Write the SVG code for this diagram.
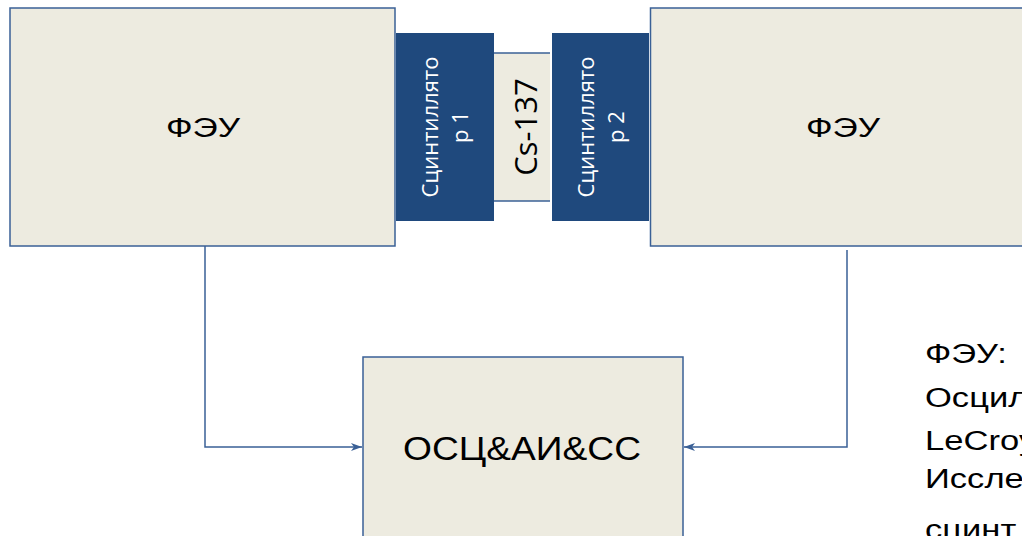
<svg xmlns="http://www.w3.org/2000/svg" width="1022" height="536" viewBox="0 0 1022 536">
<style>
.box{fill:#EDEBE0;stroke:#3A6096;stroke-width:1.5}
.scint{fill:#1F497D}
.lbl{font-family:"Liberation Sans",Arial,sans-serif;fill:#000;text-anchor:middle}
.wt{font-family:"Open Sans","Liberation Sans",sans-serif;fill:#fff;font-size:22px;text-anchor:middle}
.side{font-family:"Liberation Sans",Arial,sans-serif;fill:#000;font-size:27px}
.conn{fill:none;stroke:#3A6096;stroke-width:1.5}
</style>
<defs>
<marker id="arr" markerWidth="12" markerHeight="10" refX="11" refY="5" orient="auto" markerUnits="userSpaceOnUse">
<path d="M0,1 L11,5 L0,9 L3,5 Z" fill="#3A6096"/>
</marker>
</defs>
<rect width="1022" height="536" fill="#fff"/>
<g id="pmt1">
<rect class="box" x="10" y="8" width="385" height="238"/>
<text class="lbl" x="203" y="137" font-size="27" textLength="74" lengthAdjust="spacingAndGlyphs">ФЭУ</text>
</g>
<g id="pmt2">
<rect class="box" x="650.5" y="8" width="385" height="238"/>
<text class="lbl" x="843" y="137" font-size="27" textLength="74" lengthAdjust="spacingAndGlyphs">ФЭУ</text>
</g>
<g id="scint1">
<rect class="scint" x="396" y="33" width="98" height="188"/>
<text class="wt" transform="translate(438,127) rotate(-90)"><tspan x="0" y="0">Сцинтиллято</tspan><tspan x="0" y="30">р 1</tspan></text>
</g>
<g id="cs137">
<rect x="494" y="53" width="56" height="148" fill="#EDEBE0"/>
<line x1="494" y1="53" x2="550" y2="53" stroke="#3A6096" stroke-width="1.5"/>
<line x1="494" y1="201" x2="550" y2="201" stroke="#3A6096" stroke-width="1.5"/>
<text transform="translate(537,127) rotate(-90)" x="0" y="0" font-family="Open Sans, Liberation Sans, sans-serif" font-size="31" text-anchor="middle" fill="#000">Cs-137</text>
</g>
<g id="scint2">
<rect class="scint" x="552" y="33" width="97" height="188"/>
<text class="wt" transform="translate(594,127) rotate(-90)"><tspan x="0" y="0">Сцинтиллято</tspan><tspan x="0" y="30">р 2</tspan></text>
</g>
<g id="osc">
<rect class="box" x="363" y="357" width="320" height="200"/>
<text class="lbl" x="522" y="460" font-size="34" textLength="238" lengthAdjust="spacingAndGlyphs">ОСЦ&amp;АИ&amp;СС</text>
</g>
<g id="connectors">
<path class="conn" d="M205,246 V447 H362" marker-end="url(#arr)"/>
<path class="conn" d="M847,250 V447 H684" marker-end="url(#arr)"/>
</g>
<g id="notes" transform="translate(925,0) scale(1.28,1)">
<text class="side" x="0" y="363">ФЭУ:</text>
<text class="side" x="0" y="407">Осцил</text>
<text class="side" x="0" y="450">LeCroy</text>
<text class="side" x="0" y="488">Иссле</text>
<text class="side" x="0" y="539">сцинт</text>
</g>
</svg>
